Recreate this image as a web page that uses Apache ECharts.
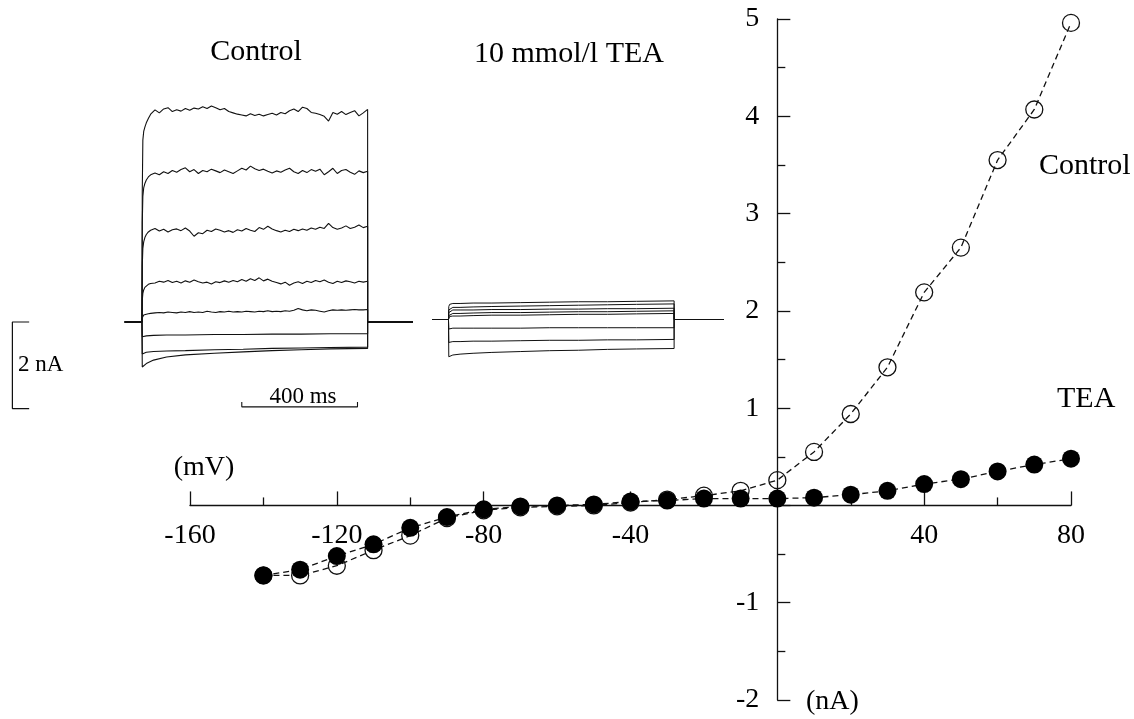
<!DOCTYPE html>
<html>
<head>
<meta charset="utf-8">
<title>I-V relation, Control vs TEA</title>
<script src="https://cdn.jsdelivr.net/npm/echarts@6.0.0/dist/echarts.min.js"></script>
<style>
  html, body { margin: 0; padding: 0; background: #fff; }
  #chart { width: 1134px; height: 719px; }
</style>
</head>
<body>
<div id="chart"></div>
<script>
// ---- I-V relation (membrane potential in mV, current in nA) ----
const voltages = [-140, -130, -120, -110, -100, -90, -80, -70, -60, -50, -40, -30, -20, -10, 0, 10, 20, 30, 40, 50, 60, 70, 80];
const controlCurrent = [-0.72, -0.72, -0.62, -0.46, -0.31, -0.13, -0.05, -0.02, -0.01, 0.00, 0.03, 0.06, 0.10, 0.15, 0.26, 0.55, 0.94, 1.42, 2.19, 2.65, 3.55, 4.07, 4.96];
const teaCurrent = [-0.72, -0.66, -0.52, -0.40, -0.23, -0.12, -0.04, -0.01, 0.00, 0.01, 0.04, 0.05, 0.07, 0.07, 0.07, 0.08, 0.11, 0.15, 0.22, 0.27, 0.35, 0.42, 0.48];

const xTickLabels = [-160, -120, -80, -40, 40, 80];
const yTickLabels = [-2, -1, 1, 2, 3, 4, 5];

// ---- Current traces during an 780 ms voltage step (time in ms, current in nA) ----
const stepEnd = 780;
const noisyTimes = [1, 3, 6, 10, 15, 22, 30, 45, 60, 75, 90, 105, 120, 135, 150, 165, 180, 195, 210, 225, 240, 255, 270, 285, 300, 315, 330, 345, 360, 375, 390, 405, 420, 435, 450, 465, 480, 495, 510, 525, 540, 555, 570, 585, 600, 615, 630, 645, 660, 675, 690, 705, 720, 735, 750, 765, 780];
const smoothTimes = [1, 4, 15, 40, 85, 150, 250, 350, 450, 550, 650, 780];

const ctrlTrace80 = [3.0, 4.2, 4.4, 4.5, 4.6, 4.7, 4.8, 4.90, 4.83, 4.92, 4.95, 4.86, 4.90, 4.87, 4.93, 4.89, 4.94, 4.92, 4.97, 4.93, 4.99, 4.95, 4.90, 4.93, 4.86, 4.83, 4.80, 4.78, 4.76, 4.81, 4.77, 4.80, 4.76, 4.79, 4.82, 4.78, 4.84, 4.81, 4.88, 4.92, 4.86, 4.96, 4.93, 4.84, 4.82, 4.79, 4.75, 4.64, 4.84, 4.80, 4.86, 4.79, 4.84, 4.88, 4.76, 4.83, 4.91];
const ctrlTrace60 = [2.3, 2.9, 3.1, 3.2, 3.28, 3.35, 3.4, 3.44, 3.40, 3.47, 3.43, 3.50, 3.46, 3.52, 3.56, 3.47, 3.52, 3.43, 3.50, 3.47, 3.53, 3.49, 3.45, 3.51, 3.47, 3.43, 3.49, 3.55, 3.51, 3.60, 3.54, 3.50, 3.53, 3.48, 3.44, 3.49, 3.46, 3.51, 3.55, 3.47, 3.43, 3.50, 3.45, 3.52, 3.48, 3.53, 3.40, 3.47, 3.55, 3.43, 3.50, 3.52, 3.46, 3.41, 3.49, 3.45, 3.48];
const ctrlTrace40 = [1.3, 1.7, 1.85, 1.95, 2.02, 2.08, 2.12, 2.16, 2.10, 2.14, 2.08, 2.13, 2.15, 2.11, 2.17, 2.10, 1.98, 2.06, 2.04, 2.12, 2.09, 2.15, 2.12, 2.08, 2.11, 2.07, 2.13, 2.10, 2.16, 2.12, 2.09, 2.18, 2.14, 2.21, 2.15, 2.11, 2.08, 2.12, 2.09, 2.14, 2.11, 2.15, 2.12, 2.17, 2.14, 2.19, 2.16, 2.28, 2.18, 2.14, 2.17, 2.22, 2.16, 2.19, 2.24, 2.18, 2.21];
const ctrlTrace20 = [0.5, 0.66, 0.74, 0.8, 0.84, 0.87, 0.89, 0.90, 0.94, 0.92, 0.96, 0.91, 0.94, 0.90, 0.95, 0.92, 0.97, 0.93, 0.90, 0.92, 0.88, 0.93, 0.91, 0.95, 0.92, 0.96, 0.93, 0.98, 0.94, 1.00, 0.96, 1.02, 0.95, 0.99, 0.94, 0.91, 0.88, 0.92, 0.85, 0.90, 0.93, 0.89, 0.94, 0.91, 0.96, 0.93, 0.97, 0.92, 0.89, 0.94, 0.91, 0.95, 0.93, 0.90, 0.94, 0.92, 0.94];
const ctrlTrace0 = [0.10, 0.14, 0.16, 0.17, 0.18, 0.19, 0.20, 0.21, 0.22, 0.21, 0.23, 0.22, 0.21, 0.23, 0.22, 0.24, 0.22, 0.23, 0.22, 0.25, 0.23, 0.22, 0.24, 0.23, 0.25, 0.23, 0.24, 0.23, 0.25, 0.24, 0.23, 0.25, 0.24, 0.26, 0.24, 0.25, 0.24, 0.26, 0.25, 0.27, 0.31, 0.28, 0.26, 0.28, 0.27, 0.25, 0.23, 0.26, 0.28, 0.27, 0.28, 0.27, 0.28, 0.29, 0.28, 0.28, 0.29];
const ctrlTraceNeg1 = [-0.34, -0.33, -0.32, -0.31, -0.30, -0.30, -0.29, -0.29, -0.28, -0.28, -0.27, -0.27];
const ctrlTraceNeg2 = [-0.74, -0.72, -0.70, -0.68, -0.67, -0.66, -0.64, -0.63, -0.61, -0.60, -0.59, -0.58];
const ctrlTraceNeg3 = [-1.04, -1.03, -0.96, -0.88, -0.81, -0.76, -0.72, -0.69, -0.66, -0.64, -0.62, -0.61];

const teaTraces = [
  [0.30, 0.35, 0.37, 0.37, 0.38, 0.38, 0.39, 0.40, 0.41, 0.41, 0.42, 0.43],
  [0.22, 0.26, 0.28, 0.28, 0.29, 0.30, 0.31, 0.32, 0.33, 0.34, 0.35, 0.36],
  [0.16, 0.20, 0.22, 0.22, 0.22, 0.23, 0.23, 0.24, 0.24, 0.25, 0.25, 0.26],
  [0.09, 0.12, 0.14, 0.14, 0.15, 0.16, 0.16, 0.17, 0.18, 0.18, 0.19, 0.20],
  [0.04, 0.07, 0.08, 0.08, 0.09, 0.10, 0.10, 0.11, 0.12, 0.12, 0.13, 0.14],
  [-0.22, -0.21, -0.20, -0.20, -0.20, -0.20, -0.20, -0.19, -0.19, -0.19, -0.19, -0.19],
  [-0.53, -0.52, -0.51, -0.51, -0.50, -0.50, -0.49, -0.48, -0.48, -0.47, -0.47, -0.46],
  [-0.86, -0.85, -0.82, -0.80, -0.78, -0.76, -0.74, -0.72, -0.71, -0.69, -0.68, -0.67]
];

// Calibration bars: 2 nA and 400 ms
const currentBar = [[-390, 0], [-448, 0], [-448, -2], [-390, -2]];
const timeBar = [[345, -1.85], [345, -1.96], [745, -1.96], [745, -1.85]];

const serif = "'Liberation Serif', 'Times New Roman', serif";
const ink = '#111';

// I-V plot area and where its axes cross (0 mV, 0 nA)
const ivGrid = { left: 190, width: 881, top: 19, height: 681 };
const vMin = -160, vMax = 80, iMin = -2, iMax = 5;
const xAxisShift = -(ivGrid.height * (0 - iMin) / (iMax - iMin));
const yAxisShift = -(ivGrid.width * (0 - vMin) / (vMax - vMin));

// holding level, step, return to holding
function stepTrace(times, values, before, after) {
  const pts = [[before, 0], [0, 0]];
  times.forEach((t, i) => pts.push([t, values[i]]));
  pts.push([stepEnd, 0], [after, 0]);
  return pts;
}

function traceSeries(grid, data, width) {
  return {
    type: 'line', xAxisIndex: grid, yAxisIndex: grid, data: data,
    symbol: 'none', silent: true, animation: false,
    lineStyle: { color: ink, width: width || 1 },
    emphasis: { disabled: true }
  };
}

const series = [];

// control traces
[ctrlTrace80, ctrlTrace60, ctrlTrace40, ctrlTrace20, ctrlTrace0].forEach(v => {
  series.push(traceSeries(1, stepTrace(noisyTimes, v, -60, 937), 1.1));
});
[ctrlTraceNeg1, ctrlTraceNeg2, ctrlTraceNeg3].forEach(v => {
  series.push(traceSeries(1, stepTrace(smoothTimes, v, -60, 937), 1.1));
});
series.push(traceSeries(1, currentBar, 1.2));
series.push(traceSeries(1, timeBar, 1.1));

// TEA traces
teaTraces.forEach(v => {
  series.push(traceSeries(2, stepTrace(smoothTimes, v, -57, 951), 1));
});

// I-V curves
const dash = [6, 4];
series.push({
  name: 'Control', type: 'line', xAxisIndex: 0, yAxisIndex: 0,
  data: voltages.map((v, i) => [v, controlCurrent[i]]),
  symbol: 'circle', symbolSize: 17, animation: false,
  itemStyle: { color: 'rgba(0,0,0,0)', borderColor: ink, borderWidth: 1.3 },
  lineStyle: { color: ink, width: 1.3, type: dash },
  emphasis: { disabled: true }
});
series.push({
  name: 'TEA', type: 'line', xAxisIndex: 0, yAxisIndex: 0,
  data: voltages.map((v, i) => [v, teaCurrent[i]]),
  symbol: 'circle', symbolSize: 18, animation: false,
  itemStyle: { color: '#000' },
  lineStyle: { color: ink, width: 1.3, type: dash },
  emphasis: { disabled: true }
});

const hiddenAxis = { type: 'value', show: false, splitLine: { show: false } };

function textEl(text, x, y, size, align) {
  return {
    type: 'text', x: x, y: y, silent: true,
    style: {
      text: text, fill: '#000', font: size + 'px ' + serif,
      textAlign: align || 'center', textVerticalAlign: 'middle'
    }
  };
}

const chart = echarts.init(document.getElementById('chart'), null, { renderer: 'canvas' });
chart.setOption({
  backgroundColor: '#fff',
  animation: false,
  grid: [
    Object.assign({ outerBoundsMode: 'none' }, ivGrid),
    { left: 11.8, width: 405, top: 105.5, height: 346.4, outerBoundsMode: 'none' },
    { left: 428.25, width: 309.5, top: 103, height: 346.4, outerBoundsMode: 'none' }
  ],
  xAxis: [
    {
      type: 'value', gridIndex: 0, min: vMin, max: vMax, interval: 40,
      position: 'bottom', offset: xAxisShift,
      axisLine: { onZero: false, lineStyle: { color: ink, width: 1.3 } },
      axisTick: { inside: true, length: 14, lineStyle: { color: ink, width: 1.3 } },
      minorTick: { show: true, splitNumber: 2, length: 8, lineStyle: { color: ink, width: 1.3 } },
      splitLine: { show: false },
      axisLabel: {
        color: '#000', fontFamily: serif, fontSize: 28, margin: 16,
        formatter: v => (xTickLabels.indexOf(v) >= 0 ? String(v) : '')
      }
    },
    Object.assign({ gridIndex: 1, min: -450, max: 950 }, hiddenAxis),
    Object.assign({ gridIndex: 2, min: -70, max: 1000 }, hiddenAxis)
  ],
  yAxis: [
    {
      type: 'value', gridIndex: 0, min: iMin, max: iMax, interval: 1,
      position: 'left', offset: yAxisShift,
      axisLine: { onZero: false, lineStyle: { color: ink, width: 1.3 } },
      axisTick: { inside: true, length: 13, lineStyle: { color: ink, width: 1.3 } },
      minorTick: { show: true, splitNumber: 2, length: 8, lineStyle: { color: ink, width: 1.3 } },
      splitLine: { show: false },
      axisLabel: {
        color: '#000', fontFamily: serif, fontSize: 28, margin: 18,
        formatter: v => (yTickLabels.indexOf(v) >= 0 ? String(v) : '')
      }
    },
    Object.assign({ gridIndex: 1, min: -3, max: 5 }, hiddenAxis),
    Object.assign({ gridIndex: 2, min: -3, max: 5 }, hiddenAxis)
  ],
  graphic: [
    textEl('Control', 256, 52, 30),
    textEl('10 mmol/l TEA', 569, 54, 30),
    textEl('Control', 1039, 166, 30, 'left'),
    textEl('TEA', 1057, 399, 30, 'left'),
    textEl('(mV)', 204, 468, 28),
    textEl('(nA)', 806, 702, 28, 'left'),
    textEl('2 nA', 18, 365, 23, 'left'),
    textEl('400 ms', 303, 397, 23)
  ],
  series: series
});
</script>
</body>
</html>
